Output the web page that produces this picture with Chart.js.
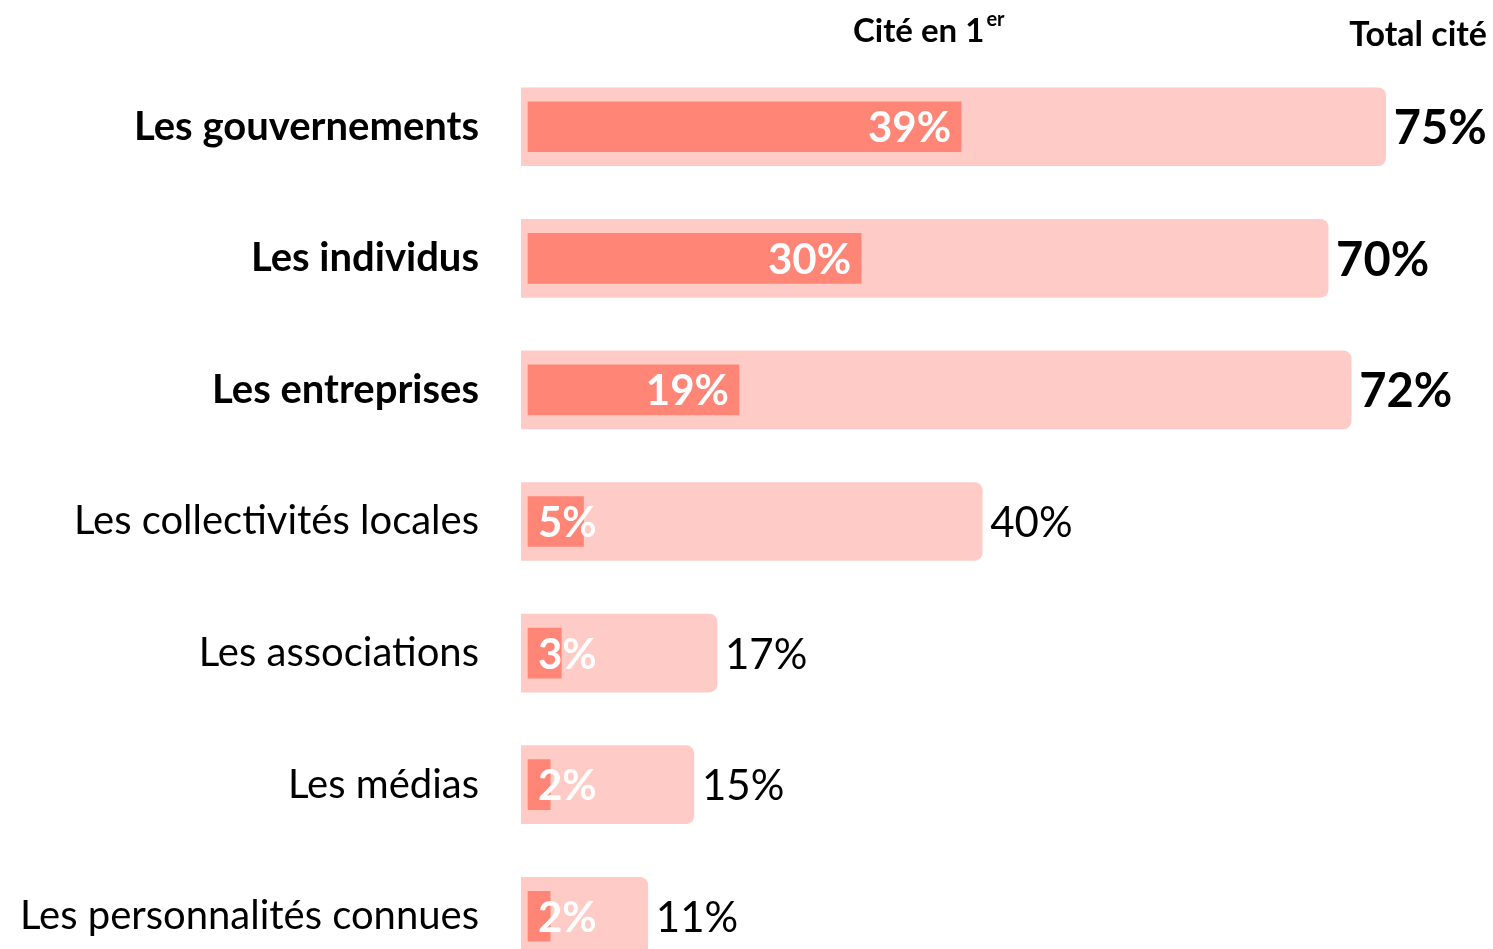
<!DOCTYPE html>
<html lang="fr">
<head>
    <meta charset="UTF-8">
    <title>Cité en 1er / Total cité</title>
    <script src="https://cdn.jsdelivr.net/npm/chart.js@4.4.0/dist/chart.umd.min.js"></script>
    <style>
        body {
            margin: 0;
            background: #ffffff;
            overflow: hidden;
        }

        canvas {
            display: block;
        }
    </style>
</head>
<body>
    <canvas id="chart" width="1493" height="990"></canvas>

    <script>
        const categories = ['Les gouvernements', 'Les individus', 'Les entreprises', 'Les collectivités locales', 'Les associations', 'Les médias', 'Les personnalités connues'];
        const citeEnPremier = [39, 30, 19, 5, 3, 2, 2];
        const totalCite = [75, 70, 72, 40, 17, 15, 11];
        const boldRows = 3; // les trois premières lignes sont en gras

        const FONT = 'Lato, "DejaVu Sans", sans-serif';

        // étiquettes de valeurs + en-têtes
        const labelsPlugin = {
            id: 'labels',
            afterDatasetsDraw(chart) {
                const ctx = chart.ctx;
                const inner = chart.getDatasetMeta(0).data;
                const outer = chart.getDatasetMeta(1).data;
                ctx.save();
                ctx.textBaseline = 'middle';

                outer.forEach((bar, i) => {
                    const bold = i < boldRows;
                    ctx.font = (bold ? 'bold 47px ' : '42px ') + FONT;
                    ctx.fillStyle = '#000000';
                    ctx.textAlign = 'left';
                    ctx.fillText(totalCite[i] + '%', bar.x + 8, bar.y + 2);
                });

                inner.forEach((bar, i) => {
                    const txt = citeEnPremier[i] + '%';
                    ctx.font = 'bold 42px ' + FONT;
                    const w = ctx.measureText(txt).width;
                    const left = Math.max(bar.x - 10 - w, 538);
                    ctx.fillStyle = '#ffffff';
                    ctx.textAlign = 'left';
                    ctx.fillText(txt, left, bar.y + 2);
                });

                // en-têtes
                ctx.fillStyle = '#000000';
                ctx.font = 'bold 33px ' + FONT;
                ctx.textAlign = 'left';
                ctx.fillText('Cité en 1', 853, 31);
                const w1 = ctx.measureText('Cité en 1').width;
                ctx.font = 'bold 20px ' + FONT;
                ctx.fillText('er', 853 + w1 + 2, 20);
                ctx.font = 'bold 34px ' + FONT;
                ctx.textAlign = 'right';
                ctx.fillText('Total cité', 1487, 35);
                ctx.restore();
            }
        };

        const ctx = document.getElementById('chart').getContext('2d');
        new Chart(ctx, {
            type: 'bar',
            data: {
                labels: categories,
                datasets: [{
                    label: 'Cité en 1er',
                    data: citeEnPremier,
                    xAxisID: 'x2',
                    backgroundColor: '#ff8677',
                    barThickness: 50,
                    grouped: false,
                    borderRadius: 0
                }, {
                    label: 'Total cité',
                    data: totalCite,
                    xAxisID: 'x',
                    backgroundColor: '#fecbc6',
                    barThickness: 78,
                    grouped: false,
                    borderRadius: 8
                }]
            },
            options: {
                indexAxis: 'y',
                responsive: false,
                animation: false,
                layout: {
                    padding: { top: 61, bottom: 8, left: 0, right: 0 }
                },
                scales: {
                    x: {
                        display: false,
                        min: 0,
                        max: 84.3
                    },
                    x2: {
                        display: false,
                        min: -0.63,
                        max: 86.9
                    },
                    y: {
                        grid: { display: false, drawTicks: false },
                        border: { display: false },
                        afterFit(scale) {
                            scale.width = 521;
                            scale.paddingTop = 0;
                            scale.paddingBottom = 0;
                        },
                        ticks: {
                            padding: 42,
                            color: '#000000',
                            font: (c) => ({
                                family: FONT,
                                size: 40,
                                weight: c.index < boldRows ? 'bold' : 'normal'
                            })
                        }
                    }
                },
                plugins: {
                    legend: { display: false },
                    tooltip: { enabled: false }
                }
            },
            plugins: [labelsPlugin]
        });
    </script>
</body>
</html>
